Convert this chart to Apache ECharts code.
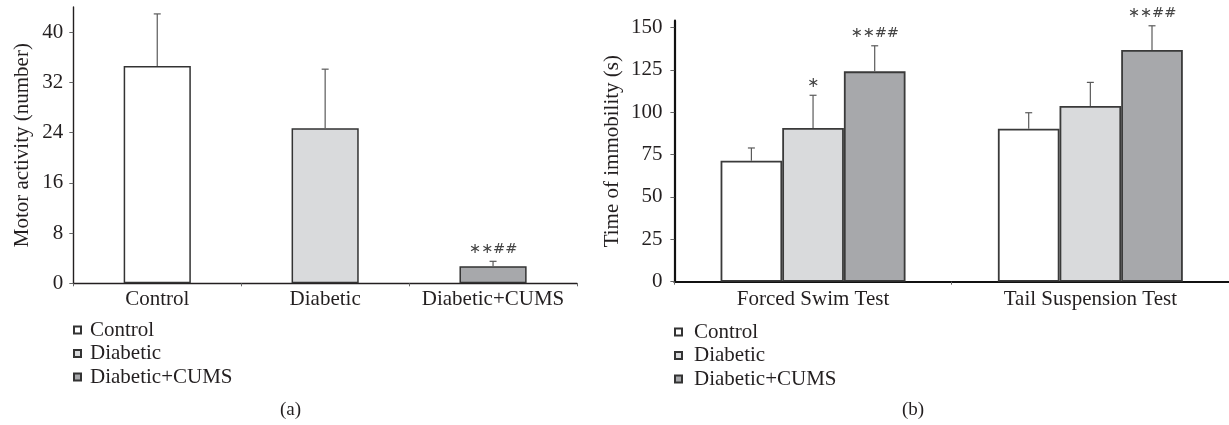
<!DOCTYPE html>
<html>
<head>
<meta charset="utf-8">
<script src="https://cdn.jsdelivr.net/npm/echarts@6/dist/echarts.min.js"></script>
<style>
  html, body { margin: 0; padding: 0; background: #fff; }
  #chart { width: 1229px; height: 425px; }
</style>
</head>
<body>
<div id="chart"></div>
<script>
// Panel (a): motor activity per group
const groupsA = ['Control', 'Diabetic', 'Diabetic+CUMS'];
const motorMean = [34.6, 24.7, 2.7];
const motorErr = [8.3, 9.4, 0.8];
const motorSig = ['', '', '∗∗##'];
const yTicksA = [0, 8, 16, 24, 32, 40];

// Panel (b): immobility time per test
const tests = ['Forced Swim Test', 'Tail Suspension Test'];
const controlImm = [71.4, 90.3];
const diabeticImm = [90.7, 103.7];
const cumsImm = [124.1, 136.7];
const controlImmErr = [7.5, 9.4];
const diabeticImmErr = [19.3, 13.9];
const cumsImmErr = [15.1, 14.3];
const controlSig = ['', ''];
const diabeticSig = ['∗', ''];
const cumsSig = ['∗∗##', '∗∗##'];
const yTicksB = [0, 25, 50, 75, 100, 125, 150];

const seriesNames = ['Control', 'Diabetic', 'Diabetic+CUMS'];
const fills = ['#ffffff', '#d9dadc', '#a7a8ab'];

const FONT = '"Liberation Serif", "Times New Roman", serif';
const SIG_FONT = '14.5px "DejaVu Sans", sans-serif';
const INK = '#231f20';
const ERR = '#5a5a5a';

function errorBar(api, x, v, e, dx, label) {
  const p0 = api.coord([x, v]);
  const p1 = api.coord([x, v + e]);
  const cx = p0[0] + dx;
  const kids = [
    { type: 'line', shape: { x1: cx, y1: p0[1], x2: cx, y2: p1[1] },
      style: { stroke: ERR, lineWidth: 1.2 } },
    { type: 'line', shape: { x1: cx - 3.5, y1: p1[1], x2: cx + 3.5, y2: p1[1] },
      style: { stroke: ERR, lineWidth: 1.2 } }
  ];
  if (label) {
    kids.push({ type: 'text', style: { text: label, x: cx, y: p1[1] - 12.5,
      align: 'center', verticalAlign: 'middle', fill: '#444', font: SIG_FONT } });
  }
  return { type: 'group', children: kids };
}

const series = [];

// panel (a) bars: one bar per category, stacked so each sits centred
seriesNames.forEach((name, i) => {
  series.push({
    name: name, type: 'bar', xAxisIndex: 0, yAxisIndex: 0, stack: 'a',
    barCategoryGap: '60%',
    data: groupsA.map((g, j) => (j === i ? motorMean[i] : '-')),
    itemStyle: { color: fills[i], borderColor: '#333', borderWidth: 1.5 },
    z: 2
  });
});
series.push({
  type: 'custom', xAxisIndex: 0, yAxisIndex: 0, z: 3,
  data: motorMean.map((v, i) => [i, v, motorErr[i]]),
  renderItem: (params, api) =>
    errorBar(api, api.value(0), api.value(1), api.value(2), 0, motorSig[params.dataIndex])
});

// panel (b) grouped bars
const immMeans = [controlImm, diabeticImm, cumsImm];
const immErrs = [controlImmErr, diabeticImmErr, cumsImmErr];
const immSigs = [controlSig, diabeticSig, cumsSig];
seriesNames.forEach((name, s) => {
  series.push({
    name: name, type: 'bar', xAxisIndex: 1, yAxisIndex: 1,
    barGap: '0%', barCategoryGap: '33.3%',
    data: immMeans[s],
    itemStyle: { color: fills[s], borderColor: '#3a3a3a', borderWidth: 1.8 },
    z: 2
  });
  series.push({
    type: 'custom', xAxisIndex: 1, yAxisIndex: 1, z: 3,
    data: immMeans[s].map((v, i) => [i, v, immErrs[s][i]]),
    renderItem: (params, api) => {
      const band = api.size([1, 0])[0];
      const bw = band * (1 - 0.333) / 3;
      return errorBar(api, api.value(0), api.value(1), api.value(2),
        (s - 1) * bw, immSigs[s][params.dataIndex]);
    }
  });
});

const txt = { fontFamily: FONT, fontSize: 21, color: INK };

const option = {
  animation: false,
  backgroundColor: '#ffffff',
  textStyle: { fontFamily: FONT },
  grid: [
    { left: 73.3, top: 7, width: 503.7, height: 276.3 },
    { left: 674.4, top: 20.7, width: 554.6, height: 261 }
  ],
  xAxis: [
    {
      type: 'category', gridIndex: 0, data: groupsA,
      axisLine: { lineStyle: { color: INK, width: 1.4 } },
      axisTick: { show: true, interval: 0, length: 3, lineStyle: { color: '#666' } },
      axisLabel: Object.assign({ margin: 6, interval: 0 }, txt)
    },
    {
      type: 'category', gridIndex: 1, data: tests,
      axisLine: { lineStyle: { color: '#111', width: 2.2 } },
      axisTick: { show: true, interval: 0, length: 3, lineStyle: { color: '#666' } },
      axisLabel: Object.assign({ margin: 7, interval: 0 }, txt)
    }
  ],
  yAxis: [
    {
      type: 'value', gridIndex: 0, min: 0, max: 44,
      name: 'Motor activity (number)', nameLocation: 'middle', nameGap: 40,
      nameTextStyle: txt,
      axisLine: { show: true, lineStyle: { color: INK, width: 1.4 } },
      axisTick: { show: true, length: 4, customValues: yTicksA, lineStyle: { color: '#666' } },
      axisLabel: Object.assign({ margin: 10, customValues: yTicksA }, txt),
      splitLine: { show: false }
    },
    {
      type: 'value', gridIndex: 1, min: 0, max: 154,
      name: 'Time of immobility (s)', nameLocation: 'middle', nameGap: 51,
      nameTextStyle: txt,
      axisLine: { show: true, lineStyle: { color: '#111', width: 2.2 } },
      axisTick: { show: true, length: 4, customValues: yTicksB, lineStyle: { color: '#666' } },
      axisLabel: Object.assign({ margin: 12, customValues: yTicksB }, txt),
      splitLine: { show: false }
    }
  ],
  legend: [
    {
      left: 73, top: 319.5, orient: 'vertical', padding: 0, itemGap: 2.5,
      itemWidth: 7, itemHeight: 7, icon: 'rect', selectedMode: false,
      data: seriesNames,
      textStyle: Object.assign({ lineHeight: 21, padding: [0, 0, 0, 4] }, txt)
    },
    {
      left: 674, top: 321.5, orient: 'vertical', padding: 0, itemGap: 2.5,
      itemWidth: 7, itemHeight: 7, icon: 'rect', selectedMode: false,
      data: seriesNames,
      textStyle: Object.assign({ lineHeight: 21, padding: [0, 0, 0, 7] }, txt)
    }
  ],
  graphic: [
    { type: 'text', left: 280, top: 401, style: { text: '(a)', font: '19px ' + FONT, fill: INK } },
    { type: 'text', left: 902, top: 401, style: { text: '(b)', font: '19px ' + FONT, fill: INK } }
  ],
  series: series
};

const chart = echarts.init(document.getElementById('chart'), null, { renderer: 'canvas' });
chart.setOption(option);
</script>
</body>
</html>
